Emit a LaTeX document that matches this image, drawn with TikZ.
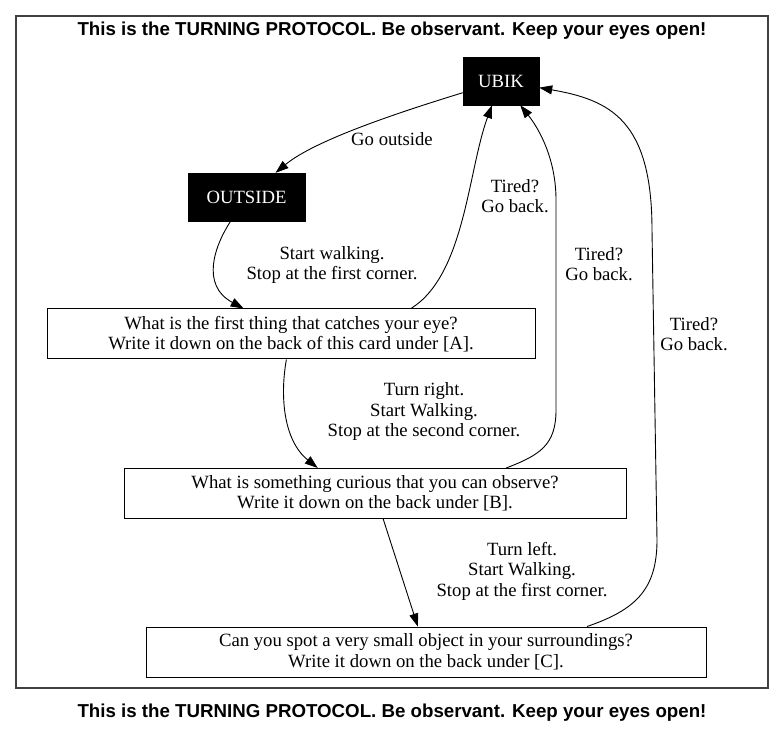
\documentclass[tikz,border=0pt]{standalone}
\usepackage{fontspec}
\setmainfont{Liberation Serif}
\newfontfamily\titlefont{Liberation Sans}
\usetikzlibrary{arrows.meta}

\begin{document}
\begin{tikzpicture}[
  x=1pt, y=-1pt,
  font=\fontsize{18.7}{20.5}\selectfont,
  every node/.style={align=center},
  cluster/.style={draw=black!75,line width=1.2pt,inner sep=0pt},
  headline/.style={font=\titlefont\bfseries\fontsize{18.7}{21}\selectfont},
  blackbox/.style={draw,fill=black,text=white,inner sep=0pt,minimum height=48pt},
  question/.style={draw,line width=1pt,inner sep=0pt,minimum height=50pt},
  to/.style={-{Triangle[length=13pt,width=9pt]},line width=0.9pt}]
  \useasboundingbox[fill=white] (0,0) rectangle (777,735);

% The frame round the protocol and its two headlines
  \node[cluster,minimum width=752pt,minimum height=672pt] (Frame) at (392,352) {};
  \node[headline] (TopLine)    at (392,31)  {This is the TURNING PROTOCOL. Be observant. Keep your eyes open!};
  \node[headline] (BottomLine) at (392,713) {This is the TURNING PROTOCOL. Be observant. Keep your eyes open!};

% Position the nodes
  \node[blackbox,minimum width=76pt]  (UBIK)    at (501,81)  {UBIK};
  \node[blackbox,minimum width=117pt] (Outside) at (246.5,197) {OUTSIDE};
  \node[question,minimum width=488pt] (FirstThing) at (291,334) {
            What is the first thing that catches your eye?\\
            Write it down on the back of this card under [A].
        };
  \node[question,minimum width=502pt] (Curious) at (375,493.5) {
            What is something curious that you can observe?\\
            Write it down on the back under [B].
        };
  \node[question,minimum width=560pt] (SmallObject) at (426,652) {
            Can you spot a very small object in your surroundings?\\
            Write it down on the back under [C].
        };

% Edge labels
  \node (GoOutside)  at (392,139) {Go outside};
  \node (StartWalk)  at (332,265) {Start walking.\\ Stop at the first corner.};
  \node (TurnRight)  at (424,412) {Turn right.\\ Start Walking.\\ Stop at the second corner.};
  \node (TurnLeft)   at (522,571) {Turn left.\\ Start Walking.\\ Stop at the first corner.};
  \node (TiredA)     at (515,196) {Tired?\\ Go back.};
  \node (TiredB)     at (599,264) {Tired?\\ Go back.};
  \node (TiredC)     at (694,334) {Tired?\\ Go back.};

  % Draw the arrows between the nodes
  \draw[to] (UBIK)            .. controls (400,112) and (315,140) ..  (Outside);
  \draw[to] (Outside)         .. controls (215,245) and (200,285) ..  (FirstThing);
  \draw[to] (FirstThing.12)   .. controls (465,275) and (468,170) ..  (UBIK);
  \draw[to] (FirstThing)      .. controls (280,395) and (283,440) ..  (Curious.156);
  \draw[to] (Curious.11)      .. controls (540,455) and (556,445) ..  (556,410)
                              --  (556,200)
                              .. controls (556,160) and (540,130) ..  (UBIK);
  \draw[to] (Curious)         --  (SmallObject);
  \draw[to] (SmallObject.9)   .. controls (635,610) and (657,590) ..  (657,540)
                              --  (652,230)
                              .. controls (652,120) and (610,100) ..  (UBIK);
\end{tikzpicture}
\end{document}
